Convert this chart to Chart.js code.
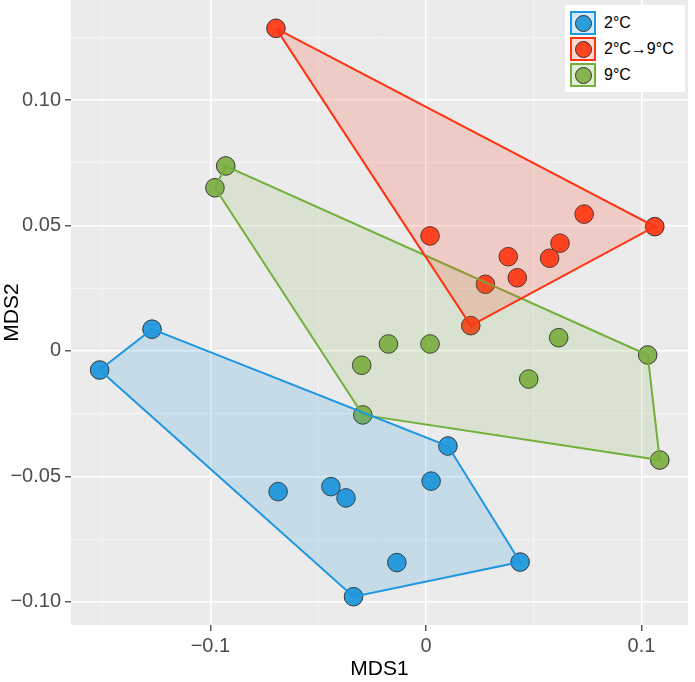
<!DOCTYPE html>
<html>
<head>
<meta charset="utf-8">
<script src="https://cdn.jsdelivr.net/npm/chart.js@4/dist/chart.umd.min.js"></script>
<style>
  body { margin: 0; background: #fff; }
  #wrap { position: relative; width: 695px; height: 682px; }
  canvas { display: block; }
  #legend {
    position: absolute; left: 565px; top: 5px; width: 120px; height: 87px;
    background: #fff; font-family: 'Liberation Sans', Arial, sans-serif; font-size: 16px; color: #000;
  }
  .item { position: absolute; left: 5px; height: 24px; display: flex; align-items: center; }
  .key { width: 22px; height: 20px; border: 2px solid; position: relative; }
  .dot {
    position: absolute; left: 50%; top: 50%; width: 15px; height: 15px;
    margin: -8.5px 0 0 -8.5px; border: 1px solid #333; border-radius: 50%;
  }
  .label { margin-left: 8px; white-space: nowrap; }
</style>
</head>
<body>
<div id="wrap">
  <canvas id="mds" width="695" height="682"></canvas>
  <div id="legend"></div>
</div>
<script>
// group names
const groupNames = ['2°C', '2°C→9°C', '9°C'];

// NMDS scores
const coldX = [-0.1514, -0.1271, -0.0686, -0.0441, -0.0371, -0.0336, -0.0135, 0.0024, 0.0102, 0.0437];
const coldY = [-0.0076, 0.0087, -0.0561, -0.0541, -0.0586, -0.0980, -0.0844, -0.0519, -0.0379, -0.0842];

const shiftX = [-0.0696, 0.0019, 0.0208, 0.0276, 0.0382, 0.0424, 0.0574, 0.0622, 0.0734, 0.1062];
const shiftY = [0.1287, 0.0459, 0.0101, 0.0266, 0.0376, 0.0292, 0.0370, 0.0430, 0.0546, 0.0496];

const warmX = [-0.0979, -0.0929, -0.0293, -0.0298, -0.0174, 0.0019, 0.0477, 0.0616, 0.1029, 0.1085];
const warmY = [0.0651, 0.0738, -0.0255, -0.0057, 0.0028, 0.0028, -0.0112, 0.0053, -0.0016, -0.0435];

// axes
const xLimits = [-0.1647, 0.1216];
const yLimits = [-0.1093, 0.1400];
const xTickValues = [-0.1, 0, 0.1];
const xTickLabels = ['\u22120.1', '0', '0.1'];
const xMinorValues = [-0.15, -0.05, 0.05];
const yTickValues = [-0.10, -0.05, 0, 0.05, 0.10];
const yTickLabels = ['\u22120.10', '\u22120.05', '0', '0.05', '0.10'];
const yMinorValues = [-0.075, -0.025, 0.025, 0.075, 0.125];

const pointColors = ['#2B9CDC', '#FF4422', '#86B34F'];
const lineColors = ['#1E96E0', '#FF3314', '#74AF3C'];
const fillColors = ['rgba(30,150,224,0.18)', 'rgba(255,60,25,0.18)', 'rgba(116,175,60,0.15)'];
const keyFills = ['#D2E9F7', '#FFD8D0', '#E1ECD5'];

function toPoints(xs, ys) {
  return xs.map((x, i) => ({ x: x, y: ys[i] }));
}

// convex hull (monotone chain), closed for drawing
function hull(points) {
  const p = points.slice().sort((a, b) => a.x - b.x || a.y - b.y);
  const cross = (o, a, b) => (a.x - o.x) * (b.y - o.y) - (a.y - o.y) * (b.x - o.x);
  const lower = [];
  p.forEach(pt => {
    while (lower.length >= 2 && cross(lower[lower.length - 2], lower[lower.length - 1], pt) <= 0) lower.pop();
    lower.push(pt);
  });
  const upper = [];
  p.slice().reverse().forEach(pt => {
    while (upper.length >= 2 && cross(upper[upper.length - 2], upper[upper.length - 1], pt) <= 0) upper.pop();
    upper.push(pt);
  });
  const h = lower.slice(0, -1).concat(upper.slice(0, -1));
  h.push(h[0]);
  return h;
}

function near(v, list) {
  return list.findIndex(m => Math.abs(m - v) < 1e-9);
}

const groups = [toPoints(coldX, coldY), toPoints(shiftX, shiftY), toPoints(warmX, warmY)];

const datasets = [];
groups.forEach((pts, g) => {
  datasets.push({
    label: groupNames[g] + ' hull',
    data: hull(pts),
    showLine: true,
    pointRadius: 0,
    borderColor: lineColors[g],
    borderWidth: 2,
    backgroundColor: fillColors[g],
    fill: 'shape',
    order: 0,
  });
  datasets.push({
    label: groupNames[g],
    data: pts,
    showLine: false,
    pointRadius: 9.3,
    pointBackgroundColor: pointColors[g],
    pointBorderColor: '#333',
    pointBorderWidth: 1,
    order: 1,
  });
});

const panelBg = {
  id: 'panelBg',
  beforeDraw(chart) {
    const { ctx, chartArea: a } = chart;
    ctx.save();
    ctx.fillStyle = '#EBEBEB';
    ctx.fillRect(a.left, a.top, a.right - a.left, a.bottom - a.top);
    ctx.restore();
  }
};

const tickFont = { family: "'Liberation Sans', Arial, sans-serif", size: 20 };
const titleFont = { family: "'Liberation Sans', Arial, sans-serif", size: 21 };

function gridFor(majors) {
  return {
    color: ctx => near(ctx.tick.value, majors) >= 0 ? '#FFFFFF' : 'rgba(255,255,255,0.6)',
    lineWidth: ctx => near(ctx.tick.value, majors) >= 0 ? 1.6 : 0.8,
    tickColor: ctx => near(ctx.tick.value, majors) >= 0 ? '#333333' : 'rgba(0,0,0,0)',
    tickLength: 6,
    tickWidth: 1.2,
  };
}

// keep the panel edge-to-edge: no extra room for half tick labels
function noEdgePadding(s) {
  s.paddingTop = 0;
  s.paddingBottom = 0;
  s.paddingLeft = 0;
  s.paddingRight = 0;
}

new Chart(document.getElementById('mds'), {
  type: 'scatter',
  data: { datasets: datasets },
  options: {
    responsive: false,
    animation: false,
    devicePixelRatio: 1,
    layout: { autoPadding: false, padding: { left: 0, right: 7, top: 0, bottom: 0 } },
    plugins: {
      legend: { display: false },
      tooltip: { enabled: false },
    },
    scales: {
      x: {
        type: 'linear',
        min: xLimits[0],
        max: xLimits[1],
        afterBuildTicks: s => {
          s.ticks = xTickValues.concat(xMinorValues).sort((a, b) => a - b).map(v => ({ value: v }));
        },
        afterFit: s => { s.height = 57; noEdgePadding(s); },
        ticks: {
          autoSkip: false,
          maxRotation: 0,
          padding: 3,
          color: '#4D4D4D',
          font: tickFont,
          callback: v => {
            const i = near(v, xTickValues);
            return i >= 0 ? xTickLabels[i] : '';
          },
        },
        grid: gridFor(xTickValues),
        border: { display: false },
        title: { display: true, text: 'MDS1', color: '#000', font: titleFont, padding: { top: 0, bottom: 0 } },
      },
      y: {
        type: 'linear',
        min: yLimits[0],
        max: yLimits[1],
        afterBuildTicks: s => {
          s.ticks = yTickValues.concat(yMinorValues).sort((a, b) => a - b).map(v => ({ value: v }));
        },
        afterFit: s => { s.width = 71; noEdgePadding(s); },
        ticks: {
          autoSkip: false,
          padding: 4,
          color: '#4D4D4D',
          font: tickFont,
          callback: v => {
            const i = near(v, yTickValues);
            return i >= 0 ? yTickLabels[i] : '';
          },
        },
        grid: gridFor(yTickValues),
        border: { display: false },
        title: { display: true, text: 'MDS2', color: '#000', font: titleFont, padding: { top: 0, bottom: 0 } },
      },
    },
  },
  plugins: [panelBg],
});

// legend: square key with the point inside, like ggplot's fill + point keys
const legend = document.getElementById('legend');
legend.innerHTML = groupNames.map((name, g) => `
  <div class="item" style="top:${6 + g * 26}px">
    <div class="key" style="border-color:${lineColors[g]};background:${keyFills[g]}">
      <div class="dot" style="background:${pointColors[g]}"></div>
    </div>
    <span class="label">${name}</span>
  </div>
`).join('');
</script>
</body>
</html>
